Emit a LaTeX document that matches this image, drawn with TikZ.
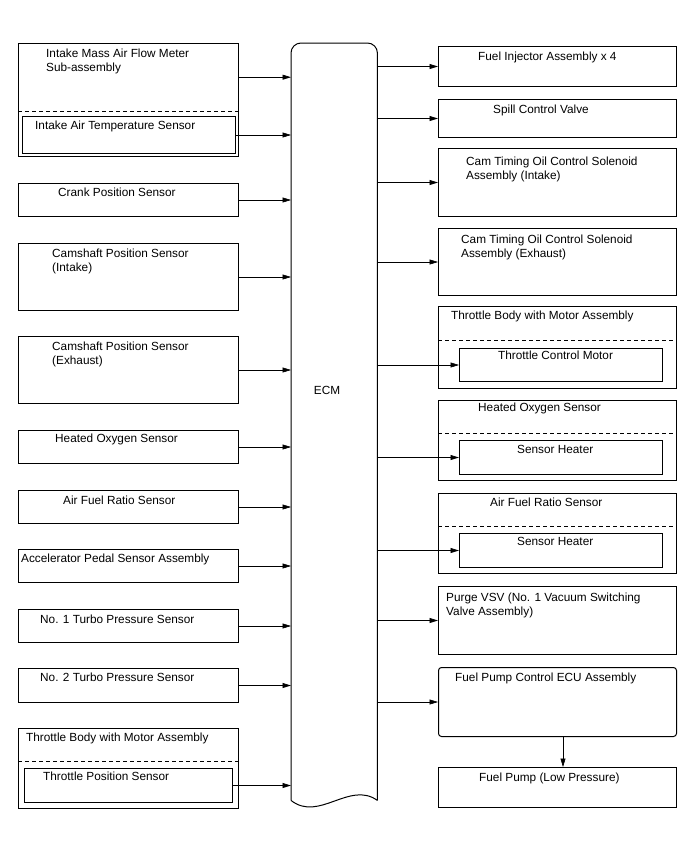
\documentclass[tikz,border=0pt]{standalone}
\usepackage{fontspec}
\setmainfont{Liberation Sans}
\usepackage{tikz}
\usetikzlibrary{arrows.meta, calc}

\begin{document}
\begin{tikzpicture}[
  x=1pt, y=-1pt,
  font=\fontsize{11.8}{14}\selectfont,
  box/.style={draw, line width=1pt, anchor=north west, inner sep=0pt},
  area/.style={anchor=north west, inner sep=0pt},
  txt/.style={anchor=base west, inner sep=0pt, align=left},
  sep/.style={line width=1pt, dash pattern=on 4pt off 3pt},
  arr/.style={-{Triangle[length=8.5pt, width=5pt]}, line width=0.65pt}
]
\useasboundingbox (0,0) rectangle (688,852);

%% ECM block
\node[area, minimum width=86, minimum height=757] (ecm) at (291,43) {};
\draw[line width=1pt, rounded corners=10pt]
  (ecm.south west) -- (ecm.north west) -- (ecm.north east) -- (ecm.south east);
\draw[line width=1pt]
  (ecm.south west) .. controls ($(ecm.south west)+(28,22)$) and ($(ecm.south east)+(-28,-20)$) .. (ecm.south east);
\node (ecmt) at (327,390) {ECM};

%% Inputs (left column)
%% (multi-line labels are placed by the baseline of their last line)
\node[box, minimum width=220, minimum height=113] (maf) at (18,43) {};
\node[area, minimum width=220, minimum height=68] (mafup) at (18,43) {};
\draw[sep] (maf.west |- mafup.south) -- (maf.east |- mafup.south);
\node[box, minimum width=213, minimum height=37] (iat) at (22,116) {};
\node[txt] (maft) at (46,71) {Intake Mass Air Flow Meter\\Sub-assembly};
\node[txt] (iatt) at (35,129) {Intake Air Temperature Sensor};

\node[box, minimum width=220, minimum height=33] (crank) at (18,183) {};
\node[txt] (crankt) at (58,196) {Crank Position Sensor};

\node[box, minimum width=220, minimum height=67] (camin) at (18,243) {};
\node[txt] (camint) at (52,271) {Camshaft Position Sensor\\(Intake)};

\node[box, minimum width=220, minimum height=67] (camex) at (18,336) {};
\node[txt] (camext) at (52,364) {Camshaft Position Sensor\\(Exhaust)};

\node[box, minimum width=220, minimum height=33] (hos) at (18,430) {};
\node[txt] (host) at (55,442) {Heated Oxygen Sensor};

\node[box, minimum width=220, minimum height=33] (afs) at (18,490) {};
\node[txt] (afst) at (63,504) {Air Fuel Ratio Sensor};

\node[box, minimum width=220, minimum height=33] (aps) at (18,549) {};
\node[txt] (apst) at (21,562) {Accelerator Pedal Sensor Assembly};

\node[box, minimum width=220, minimum height=33] (tpa) at (18,609) {};
\node[txt] (tpat) at (40,623) {No. 1 Turbo Pressure Sensor};

\node[box, minimum width=220, minimum height=34] (tpb) at (18,668) {};
\node[txt] (tpbt) at (40,681) {No. 2 Turbo Pressure Sensor};

\node[box, minimum width=220, minimum height=80] (tbl) at (18,728) {};
\draw[sep] ($(tbl.north west)+(0,33)$) -- ($(tbl.north east)+(0,33)$);
\node[box, minimum width=208, minimum height=34] (tps) at (24,768) {};
\node[txt] (tblt) at (26,741) {Throttle Body with Motor Assembly};
\node[txt] (tpst) at (43,780) {Throttle Position Sensor};

%% Input arrows into ECM
\draw[arr] (mafup.east) -- (mafup.east -| ecm.west);
\draw[arr] (iat.east)   -- (iat.east -| ecm.west);
\draw[arr] (crank.east) -- (crank.east -| ecm.west);
\draw[arr] (camin.east) -- (camin.east -| ecm.west);
\draw[arr] (camex.east) -- (camex.east -| ecm.west);
\draw[arr] (hos.east)   -- (hos.east -| ecm.west);
\draw[arr] (afs.east)   -- (afs.east -| ecm.west);
\draw[arr] (aps.east)   -- (aps.east -| ecm.west);
\draw[arr] (tpa.east)   -- (tpa.east -| ecm.west);
\draw[arr] (tpb.east)   -- (tpb.east -| ecm.west);
\draw[arr] (tps.east)   -- (tps.east -| ecm.west);

%% Outputs (right column)
\node[box, minimum width=238, minimum height=40] (inj) at (438,46) {};
\node[txt] (injt) at (478,60) {Fuel Injector Assembly x 4};

\node[box, minimum width=238, minimum height=38] (scv) at (438,99) {};
\node[txt] (scvt) at (493,113) {Spill Control Valve};

\node[box, minimum width=238, minimum height=68] (ocvin) at (438,148) {};
\node[txt] (ocvint) at (466,179) {Cam Timing Oil Control Solenoid\\Assembly (Intake)};

\node[box, minimum width=238, minimum height=67] (ocvex) at (438,228) {};
\node[txt] (ocvext) at (461,257) {Cam Timing Oil Control Solenoid\\Assembly (Exhaust)};

\node[box, minimum width=238, minimum height=82] (tbr) at (438,306) {};
\draw[sep] ($(tbr.north west)+(0,34)$) -- ($(tbr.north east)+(0,34)$);
\node[box, minimum width=203, minimum height=33] (tcm) at (459,348) {};
\node[txt] (tbrt) at (451,319) {Throttle Body with Motor Assembly};
\node[txt] (tcmt) at (498,359) {Throttle Control Motor};

\node[box, minimum width=238, minimum height=80] (hor) at (438,400) {};
\draw[sep] ($(hor.north west)+(0,33)$) -- ($(hor.north east)+(0,33)$);
\node[box, minimum width=203, minimum height=34] (hoh) at (459,440) {};
\node[txt] (hort) at (478,411) {Heated Oxygen Sensor};
\node[txt] (hoht) at (517,453) {Sensor Heater};

\node[box, minimum width=238, minimum height=80] (afr) at (438,493) {};
\draw[sep] ($(afr.north west)+(0,33)$) -- ($(afr.north east)+(0,33)$);
\node[box, minimum width=203, minimum height=34] (afh) at (459,533) {};
\node[txt] (afrt) at (490,506) {Air Fuel Ratio Sensor};
\node[txt] (afht) at (517,545) {Sensor Heater};

\node[box, minimum width=238, minimum height=68] (vsv) at (438,586) {};
\node[txt] (vsvt) at (446,615) {Purge VSV (No. 1 Vacuum Switching\\Valve Assembly)};

\node[box, rounded corners=3pt, minimum width=238, minimum height=69] (fpecu) at (438,667) {};
\node[txt] (fpecut) at (455,681) {Fuel Pump Control ECU Assembly};

\node[box, minimum width=238, minimum height=40] (fp) at (438,767) {};
\node[txt] (fpt) at (479,781) {Fuel Pump (Low Pressure)};

%% ECM output arrows
\draw[arr] (inj.west -| ecm.east)   -- (inj.west);
\draw[arr] (scv.west -| ecm.east)   -- (scv.west);
\draw[arr] (ocvin.west -| ecm.east) -- (ocvin.west);
\draw[arr] (ocvex.west -| ecm.east) -- (ocvex.west);
\draw[arr] (tcm.west -| ecm.east)   -- (tcm.west);
\draw[arr] (hoh.west -| ecm.east)   -- (hoh.west);
\draw[arr] (afh.west -| ecm.east)   -- (afh.west);
\draw[arr] (vsv.west -| ecm.east)   -- (vsv.west);
\draw[arr] (fpecu.west -| ecm.east) -- (fpecu.west);

%% ECU drives the pump
\draw[arr] ($(fpecu.south west)+(125,0)$) -- ($(fp.north west)+(125,0)$);
\end{tikzpicture}
\end{document}
